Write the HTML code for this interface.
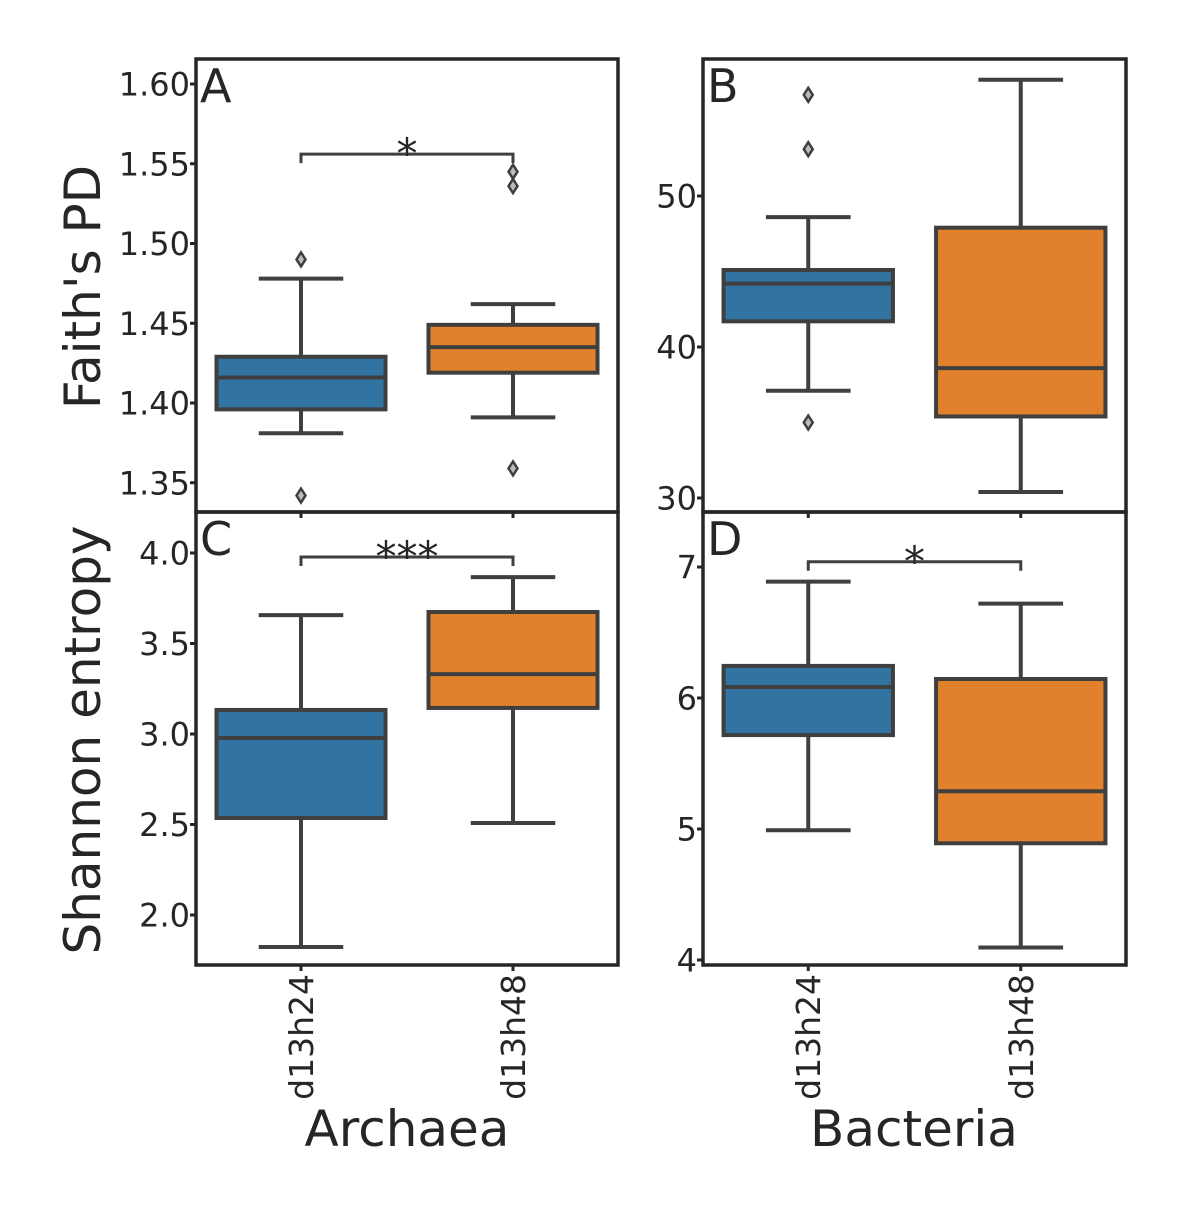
<!DOCTYPE html>
<html><head><meta charset="utf-8"><style>body{margin:0;background:#fff}svg{display:block}text{font-family:"DejaVu Sans","Liberation Sans",sans-serif;fill:#262626}</style></head>
<body>
<svg id="chart" width="1185" height="1214" viewBox="0 0 1185 1214" xmlns="http://www.w3.org/2000/svg"></svg>
<script>
const groups = ["d13h24","d13h48"];
// [whiskerLow, Q1, median, Q3, whiskerHigh]
const statsA = [[1.381,1.396,1.416,1.429,1.478],[1.391,1.419,1.435,1.449,1.462]];
const fliersA = [[1.490,1.342],[1.359,1.545,1.536]];
const statsB = [[37.1,41.7,44.2,45.1,48.6],[30.4,35.4,38.6,47.9,57.7]];
const fliersB = [[56.7,53.1,35.0],[]];
const statsC = [[1.823,2.536,2.978,3.133,3.657],[2.508,3.144,3.331,3.674,3.867]];
const fliersC = [[],[]];
const statsD = [[4.99,5.717,6.084,6.245,6.888],[4.095,4.891,5.288,6.145,6.72]];
const fliersD = [[],[]];
const ticksA = [1.35,1.40,1.45,1.50,1.55,1.60];
const ticksB = [30,40,50];
const ticksC = [2.0,2.5,3.0,3.5,4.0];
const ticksD = [4,5,6,7];
const sigA = {y:1.556,label:"*"}, sigC = {y:3.978,label:"***"}, sigD = {y:7.04,label:"*"};

const svg = document.getElementById('chart');
const NS = "http://www.w3.org/2000/svg";
function mk(tag, attrs, parent){const e=document.createElementNS(NS,tag);for(const k in attrs)e.setAttribute(k,attrs[k]);(parent||svg).appendChild(e);return e;}
const colors=["#3274a1","#e1812c"], LC="#3f3f3f";

function panel(name,x0,x1,y0,y1,v0,p0,v1,p1,stats,fliers,ticks,dec,letter,sig,showX){
  const g=mk('g',{});
  
  
  const ys=v=>p0+(v-v0)*(p1-p0)/(v1-v0);
  const w=x1-x0, bw=169*w/422, centers=[x0+105*w/422, x0+317*w/422];
  ticks.forEach(t=>{
    const y=ys(t);
    const tl=mk('line',{x1:x0-6,x2:x0,y1:y,y2:y,stroke:"#262626","stroke-width":3},g);
    
    const tx=mk('text',{x:x0-6,y:y+11.5,"font-size":32,"text-anchor":"end"},g);
    tx.textContent=dec?t.toFixed(dec):String(t);
    
  });
  centers.forEach((cx,i)=>{
    const s=stats[i];
    const bg=mk('g',{},g);
    
    const st={stroke:LC,"stroke-width":4};
    mk('line',Object.assign({x1:cx,x2:cx,y1:ys(s[0]),y2:ys(s[1])},st),bg);
    mk('line',Object.assign({x1:cx,x2:cx,y1:ys(s[3]),y2:ys(s[4])},st),bg);
    mk('line',Object.assign({x1:cx-bw/4,x2:cx+bw/4,y1:ys(s[0]),y2:ys(s[0])},st),bg);
    mk('line',Object.assign({x1:cx-bw/4,x2:cx+bw/4,y1:ys(s[4]),y2:ys(s[4])},st),bg);
    mk('rect',Object.assign({x:cx-bw/2,y:ys(s[3]),width:bw,height:ys(s[1])-ys(s[3]),fill:colors[i]},st),bg);
    mk('line',Object.assign({x1:cx-bw/2,x2:cx+bw/2,y1:ys(s[2]),y2:ys(s[2])},st),bg);
    fliers[i].forEach(f=>{
      const y=ys(f);
      const d=mk('path',{d:`M${cx} ${y-7}L${cx+4.5} ${y}L${cx} ${y+7}L${cx-4.5} ${y}Z`,fill:"#bbb",stroke:LC,"stroke-width":2.5},bg);
      
    });
    const xt=mk('line',{x1:cx,x2:cx,y1:y1,y2:y1+6,stroke:"#262626","stroke-width":3},g);
    
    if(showX){
      const lt=mk('text',{x:0,y:0,"font-size":33,"text-anchor":"end",transform:`translate(${cx+12},${y1+9}) rotate(-90)`},g);
      lt.textContent=groups[i];
      
    }
  });
  if(sig){
    const y=ys(sig.y);
    const br=mk('path',{d:`M${centers[0]} ${y+9}V${y}H${centers[1]}V${y+9}`,fill:"none",stroke:LC,"stroke-width":3},g);
    
    const st=mk('text',{x:(centers[0]+centers[1])/2,y:y+14,"font-size":42,"text-anchor":"middle"},g);
    st.textContent=sig.label;
    
  }
  const fr=mk('rect',{x:x0,y:y0,width:w,height:y1-y0,fill:"none",stroke:"#262626","stroke-width":3.5},g);
  
  const pl=mk('text',{x:x0+4,y:y0+43,"font-size":46},g);
  pl.textContent=letter;
  
}
panel('panel-a',196,618,59,512,1.40,403,1.60,84,statsA,fliersA,ticksA,2,"A",sigA,false);
panel('panel-b',703,1126,59,512,40,347,50,196,statsB,fliersB,ticksB,0,"B",null,false);
panel('panel-c',196,618,512,965,3.0,734,4.0,553,statsC,fliersC,ticksC,1,"C",sigC,true);
panel('panel-d',703,1126,512,965,6,698,7,567,statsD,fliersD,ticksD,0,"D",sigD,true);
function lab(name,txt,attrs){const t=mk('text',attrs);t.textContent=txt;}
lab('y-axis-title-top',"Faith's PD",{x:0,y:0,"font-size":50,"text-anchor":"middle",transform:"translate(100,287) rotate(-90)"});
lab('y-axis-title-bottom',"Shannon entropy",{x:0,y:0,"font-size":50,"text-anchor":"middle",transform:"translate(100,740) rotate(-90)"});
lab('x-axis-title-archaea',"Archaea",{x:407,y:1146,"font-size":50,"text-anchor":"middle"});
lab('x-axis-title-bacteria',"Bacteria",{x:914,y:1146,"font-size":50,"text-anchor":"middle"});
</script>
</body></html>
